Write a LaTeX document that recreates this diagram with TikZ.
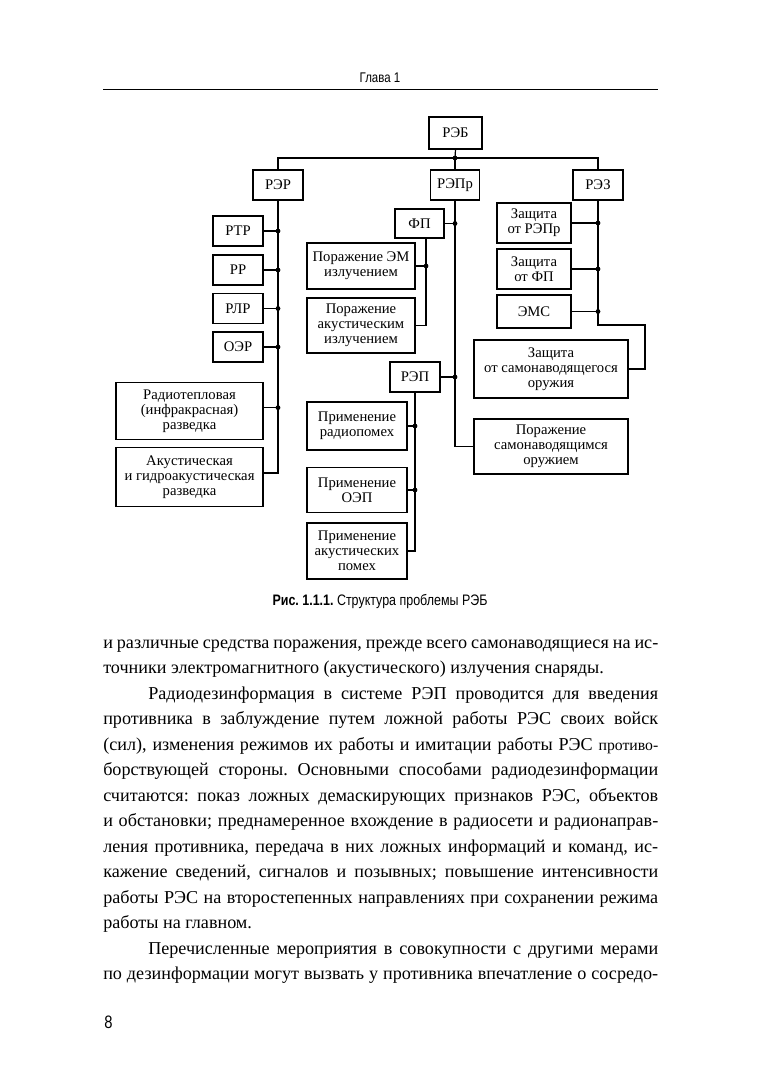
\documentclass[tikz,border=0pt]{standalone}
\usepackage{fontspec}
\setmainfont{Liberation Serif}
\newfontfamily\cond[FakeStretch=0.82]{Liberation Sans}
\frenchspacing
\begin{document}
\begin{tikzpicture}[x=0.75pt,y=-0.75pt,
  blk/.style={draw, line width=0.9pt, inner sep=0pt, align=center, font=\fontsize{11}{11.4}\selectfont},
  sz/.style 2 args={minimum width=#1*0.75pt, minimum height=#2*0.75pt},
  ln/.style={line width=0.9pt},
  dot/.style={circle, fill, inner sep=0pt, minimum size=3.6pt},
  txt/.style={anchor=base west, inner sep=0pt, font=\frenchspacing\fontsize{13.6}{19}\selectfont},
  sans/.style={inner sep=0pt, font=\cond\fontsize{10.5}{12}\selectfont}]
\useasboundingbox (0,0) rectangle (761,1080);

% header
\node[sans] (hdr) at (380,78) {Глава 1};
\coordinate (hl) at (103,90);
\coordinate (hr) at (658,90);
\draw[line width=0.75pt] (hl) -- (hr);

% top level
\node[blk, sz={53}{32}] (reb) at (455.5,133) {РЭБ};
\node[blk, sz={50}{30}] (rer) at (278,185) {РЭР};
\node[blk, sz={49}{30}] (repr) at (455,185) {РЭПр};
\node[blk, sz={50}{30}] (rez) at (598,185) {РЭЗ};
\coordinate (j0) at (455,158);
\draw[ln] (reb.south) -- (j0);
\draw[ln] (rer.north) |- (j0) -| (rez.north);
\draw[ln] (j0) -- (repr.north);
\node[dot] at (j0) {};

% РЭР branch
\node[blk, sz={50}{30}] (rtr) at (238,231) {РТР};
\node[blk, sz={50}{30}] (rr) at (238,270) {РР};
\node[blk, sz={50}{30}] (rlr) at (238,308.5) {РЛР};
\node[blk, sz={50}{30}] (oer) at (238,347) {ОЭР};
\node[blk, sz={147}{57}] (rad) at (189.5,411) {Радиотепловая\\(инфракрасная)\\разведка};
\node[blk, sz={147}{59}] (aku) at (189.5,477) {Акустическая\\и гидроакустическая\\разведка};
\draw[ln] (rer.south) |- ([yshift=3pt]aku.east);
\foreach \n in {rtr,rr,rlr,oer}{
  \draw[ln] (\n.east) -- (\n.east -| rer.south) node[dot]{};
}
\draw[ln] ([yshift=2.5pt]rad.east) -- ([yshift=2.5pt]rad.east -| rer.south) node[dot]{};

% РЭПр branch
\node[blk, sz={49}{29}] (fp) at (419.5,223.5) {ФП};
\node[blk, sz={108}{46}] (pem) at (361,266) {Поражение ЭМ\\излучением};
\node[blk, sz={108}{55}] (pak) at (361,325.5) {Поражение\\акустическим\\излучением};
\node[blk, sz={50}{30}] (rep) at (415,377) {РЭП};
\node[blk, sz={100}{48}] (prp) at (357,426) {Применение\\радиопомех};
\node[blk, sz={100}{45}] (poep) at (357,490) {Применение\\ОЭП};
\node[blk, sz={100}{56}] (pap) at (357,551) {Применение\\акустических\\помех};
\node[blk, sz={154}{58}] (zs) at (551,369) {Защита\\от самонаводящегося\\оружия};
\node[blk, sz={154}{55}] (pss) at (551,446.5) {Поражение\\самонаводящимся\\оружием};

\draw[ln] (repr.south) |- (pss.west);
\draw[ln] (fp.east) -- (fp.east -| repr.south) node[dot]{};
\draw[ln] (rep.east) -- (rep.east -| repr.south) node[dot]{};

\coordinate (fpd) at ([xshift=4.9pt]fp.south);
\draw[ln] (fpd) |- (pak.east);
\draw[ln] (pem.east) -- (pem.east -| fpd) node[dot]{};

\draw[ln] (rep.south) |- (pap.east);
\draw[ln] (prp.east) -- (prp.east -| rep.south) node[dot]{};
\draw[ln] (poep.east) -- (poep.east -| rep.south) node[dot]{};

% РЭЗ branch
\node[blk, sz={74}{40}] (zr) at (534,223) {Защита\\от РЭПр};
\node[blk, sz={74}{40}] (zf) at (534,269) {Защита\\от ФП};
\node[blk, sz={74}{33}] (ems) at (534,311.5) {ЭМС};
\coordinate (k1) at (598,325);
\coordinate (k2) at (645,325);
\draw[ln] (rez.south) -- (k1) -- (k2) |- (zs.east);
\foreach \n in {zr,zf,ems}{
  \draw[ln] (\n.east) -- (\n.east -| rez.south) node[dot]{};
}

% caption
\node[sans, font=\cond\fontsize{11.4}{13}\selectfont] (cap) at (380,601) {\textbf{Рис. 1.1.1.} Структура проблемы РЭБ};

% body text
\node[txt] (t1) at (103,648) {\makebox[416.25pt][s]{и различные средства поражения, прежде всего самонаводящиеся на ис-}};
\node[txt] (t2) at (103,673.5) {точники электромагнитного (акустического) излучения снаряды.};
\node[txt] (t3) at (148,699) {\makebox[382.5pt][s]{Радиодезинформация в системе РЭП проводится для введения}};
\node[txt] (t4) at (103,724.5) {\makebox[416.25pt][s]{противника в заблуждение путем ложной работы РЭС своих войск}};
\node[txt] (t5) at (103,750) {\makebox[416.25pt][s]{(сил), изменения режимов их работы и имитации работы РЭС \raisebox{-0.5pt}{\fontsize{11.8}{12}\selectfont противо-}}};
\node[txt] (t6) at (103,775.5) {\makebox[416.25pt][s]{борствующей стороны. Основными способами радиодезинформации}};
\node[txt] (t7) at (103,801) {\makebox[416.25pt][s]{считаются: показ ложных демаскирующих признаков РЭС, объектов}};
\node[txt] (t8) at (103,826.5) {\makebox[416.25pt][s]{и обстановки; преднамеренное вхождение в радиосети и радионаправ-}};
\node[txt] (t9) at (103,852) {\makebox[416.25pt][s]{ления противника, передача в них ложных информаций и команд, ис-}};
\node[txt] (t10) at (103,877.5) {\makebox[416.25pt][s]{кажение сведений, сигналов и позывных; повышение интенсивности}};
\node[txt] (t11) at (103,903) {\makebox[416.25pt][s]{работы РЭС на второстепенных направлениях при сохранении режима}};
\node[txt] (t12) at (103,928.5) {работы на главном.};
\node[txt] (t13) at (148,954) {\makebox[382.5pt][s]{Перечисленные мероприятия в совокупности с другими мерами}};
\node[txt] (t14) at (103,979.5) {\makebox[416.25pt][s]{по дезинформации могут вызвать у противника впечатление о сосредо-}};

% page number
\node[sans, anchor=base west, font=\cond\fontsize{13.5}{14}\selectfont] (pn) at (104,1028) {8};
\end{tikzpicture}
\end{document}
